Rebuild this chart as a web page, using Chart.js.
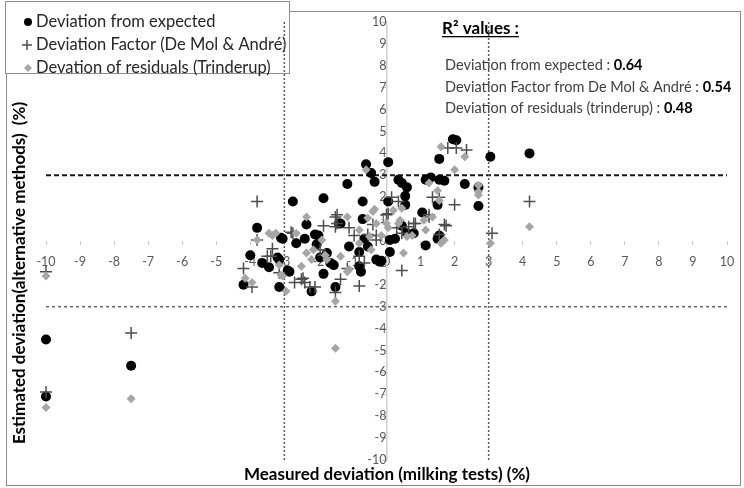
<!DOCTYPE html>
<html>
<head>
<meta charset="utf-8">
<script src="https://cdn.jsdelivr.net/npm/chart.js@4.4.1/dist/chart.umd.min.js"></script>
<style>
  html, body { margin: 0; padding: 0; background: #fff; }
  #wrap { width: 744px; height: 488px; }
</style>
</head>
<body>
<div id="wrap"><canvas id="devChart" width="744" height="488"></canvas></div>
<script>
// legend / series names
const seriesNames = [
  'Deviation from expected',
  'Deviation Factor (De Mol & André)',
  'Devation of residuals (Trinderup)'
];
const r2Labels = [
  'Deviation from expected : ',
  'Deviation Factor from De Mol & André : ',
  'Deviation of residuals (trinderup) : '
];
const r2Values = ['0.64', '0.54', '0.48'];

const xTitle = 'Measured deviation (milking tests) (%)';
const yTitle = 'Estimated deviation(alternative methods)  (%)';

const axisMin = -10;
const axisMax = 10;
const limitLines = [-3, 3];

// [measured, estimated]
const expectedPts = [
  [-10,-4.5],[-10,-7.1],[-7.5,-5.7],[4.2,4.0],[3.05,3.85],
  [-3.8,0.6],[-4.0,-0.65],[-4.2,-2.0],[-3.65,-1.0],[-3.45,-1.2],[-3.15,-2.1],[-3.1,0.15],
  [-3.2,-0.75],[-2.9,-1.35],[-2.75,1.8],[-2.65,-0.1],[-2.4,0.1],[-2.35,0.75],[-2.2,-2.3],
  [-2.1,0.3],[-2.05,-0.15],[-1.95,-0.75],[-1.85,1.95],[-1.85,-1.5],[-1.75,-0.55],[-1.55,-1.1],
  [-1.5,-2.1],[-1.4,0.8],[-1.15,2.6],[-1.1,-0.25],[-0.8,-0.5],[-0.8,-1.15],[-0.75,-1.4],
  [-0.7,1.8],[-0.7,1.0],[-0.65,0.1],[-0.6,3.5],[-0.45,3.1],[-0.35,2.7],[-0.55,-0.25],
  [-0.15,-0.9],[0.05,3.6],[0.1,-0.5],[0.1,0.05],[0.35,2.8],[0.45,2.65],[0.6,2.45],[0.55,2.05],
  [0.55,1.65],[0.05,1.8],[0.45,0.7],[0.25,0.1],[0.6,0.35],[1.05,1.3],[1.15,-0.2],[1.15,2.8],
  [1.3,2.9],[1.55,2.8],[1.7,2.75],[1.55,3.75],[1.5,1.65],[1.95,4.65],[2.05,4.6],[2.3,2.6],
  [2.7,2.45],[2.7,1.6],[1.55,0.25],[-3.15,-0.85],[-2.85,-1.4],[-3.05,0.1],[-2.0,0.25],
  [-1.65,-1.0],[-1.35,0.8],[-0.3,-0.85],[0.8,0.35],[1.5,0.1],[-0.2,-0.95]
];
const factorPts = [
  [-10,-6.9],[-10,-1.4],[-7.5,-4.2],[4.2,1.8],[3.1,0.35],
  [-3.8,1.8],[-4.2,-1.25],[-3.95,-2.1],[-3.35,-0.35],[-3.5,-0.7],[-2.75,0.35],[-3.15,-1.45],
  [-2.7,-1.9],[-2.5,-1.75],[-2.4,-1.9],[-2.1,-2.1],[-1.85,0.7],[-1.85,-0.65],[-1.5,1.1],
  [-1.5,0.65],[-1.1,0.6],[-1.35,-1.75],[-1.5,-2.35],[-1.15,-1.25],[-0.8,-2.05],[-0.95,0.25],
  [-0.3,0.25],[-0.65,-1.0],[-0.55,0.3],[0.0,1.2],[0.15,2.0],[0.35,1.8],[0.3,0.6],[0.45,-1.35],
  [0.65,0.65],[0.85,0.8],[1.25,1.1],[1.35,2.0],[1.55,2.0],[1.75,0.7],[1.55,0.3],[2.0,1.65],
  [1.8,4.25],[2.05,4.25],[2.35,4.15],[-3.8,0.05],[-3.4,-0.7],[-2.8,0.4],[-1.45,1.2],
  [-1.45,0.8],[-0.4,0.75],[-0.8,-0.7],[-2.45,-1.7],[-2.25,-2.1],[-1.95,-0.4],[0.05,1.25],
  [0.8,0.8],[1.25,1.2],[1.7,0.75],[0.45,0.35],[-0.3,0.05]
];
const residualPts = [
  [-10,-7.6],[-10,-1.6],[-7.5,-7.2],[-1.5,-4.9],[4.2,0.65],[3.05,-0.1],
  [-3.8,0.05],[-4.15,-1.7],[-3.95,-1.9],[-3.45,0.35],[-3.25,0.35],[-3.15,-1.1],[-3.1,-1.55],
  [-2.95,-2.3],[-2.35,1.1],[-2.35,-0.55],[-2.2,-0.85],[-1.9,0.05],[-1.75,-0.85],[-1.35,-0.7],
  [-1.5,-2.75],[-1.15,1.1],[-1.1,-1.3],[-0.8,0.5],[-0.6,3.25],[-0.55,1.05],[-0.4,1.35],
  [-0.3,0.8],[-0.45,-0.4],[0.05,0.6],[0.2,1.4],[0.4,0.95],[0.45,1.5],[0.5,-0.55],[0.75,0.25],
  [1.15,0.5],[1.35,1.1],[1.5,2.3],[1.55,1.85],[1.6,4.3],[1.7,0.05],[2.0,3.25],[2.3,3.85],
  [2.7,2.25],[-3.35,0.25],[-2.65,0.35],[-2.5,-1.15],[-2.15,-0.4],[-1.8,-0.65],[-1.15,-1.4],
  [-0.5,0.2],[-0.8,-0.1],[1.6,-0.1],[1.1,0.95],[-0.15,0.25],[0.35,0.8],[0.6,0.2],[0.0,0.8],
  [2.7,2.55],[2.7,2.1],[1.25,2.65],[-0.35,1.45],[-3.05,-1.6]
];

const toXY = arr => arr.map(p => ({ x: p[0], y: p[1] }));

// dashed limit lines (vertical + horizontal)
function limitLine(pts, color, dash, width) {
  return {
    data: pts, showLine: true, pointRadius: 0, pointHoverRadius: 0,
    borderColor: color, borderDash: dash, borderWidth: width, fill: false, order: 10
  };
}

const decorPlugin = {
  id: 'decor',
  beforeDatasetsDraw(chart) {
    const ctx = chart.ctx;
    ctx.save();
    ctx.strokeStyle = '#8c8c8c';
    ctx.lineWidth = 1;
    ctx.strokeRect(6.5, 11.5, 734, 474);

    // legend box
    ctx.fillStyle = '#fff';
    ctx.fillRect(5, 1, 284, 72);
    ctx.strokeRect(5.5, 1.5, 284, 72);
    ctx.font = '16.5px Lato';
    ctx.textBaseline = 'middle';
    ctx.fillStyle = '#262626';
    const rows = [22, 45, 68];
    seriesNames.forEach((name, i) => {
      ctx.fillText(name, 36, rows[i]);
    });
    // markers
    ctx.fillStyle = '#000';
    ctx.beginPath(); ctx.arc(28, rows[0], 4, 0, Math.PI * 2); ctx.fill();
    ctx.strokeStyle = '#4d4d4d'; ctx.lineWidth = 1.5;
    ctx.beginPath();
    ctx.moveTo(22, rows[1]); ctx.lineTo(32, rows[1]);
    ctx.moveTo(27, rows[1] - 5); ctx.lineTo(27, rows[1] + 5);
    ctx.stroke();
    ctx.fillStyle = '#a6a6a6';
    ctx.beginPath();
    ctx.moveTo(28, rows[2] - 4); ctx.lineTo(32, rows[2]); ctx.lineTo(28, rows[2] + 4); ctx.lineTo(24, rows[2]);
    ctx.closePath(); ctx.fill();

    // R2 block
    ctx.fillStyle = '#000';
    ctx.font = 'bold 17px Lato';
    ctx.textBaseline = 'alphabetic';
    const head = 'R² values :';
    ctx.fillText(head, 442, 34);
    const hw = ctx.measureText(head).width;
    ctx.fillRect(442, 36, hw, 1.3);
    const r2Rows = [70, 92, 113];
    r2Labels.forEach((lab, i) => {
      ctx.font = '14.5px Lato';
      ctx.fillStyle = '#404040';
      ctx.fillText(lab, 445, r2Rows[i]);
      const w = ctx.measureText(lab).width;
      ctx.font = 'bold 14.5px Lato';
      ctx.fillStyle = '#000';
      ctx.fillText(r2Values[i], 445 + w, r2Rows[i]);
    });

    // axis titles
    ctx.font = 'bold 17px Lato';
    ctx.fillStyle = '#000';
    ctx.textAlign = 'center';
    ctx.textBaseline = 'middle';
    ctx.fillText(xTitle, 387, 475);
    ctx.translate(20, 273);
    ctx.rotate(-Math.PI / 2);
    ctx.fillText(yTitle, 0, 0);
    ctx.restore();
  }
};

Chart.defaults.font.family = 'Lato';

const ctx = document.getElementById('devChart').getContext('2d');
const devChart = new Chart(ctx, {
  type: 'scatter',
  data: {
    datasets: [
      {
        label: seriesNames[0],
        data: toXY(expectedPts),
        pointStyle: 'circle',
        pointRadius: 5,
        backgroundColor: '#000',
        borderColor: '#000',
        borderWidth: 0,
        clip: false,
        order: 3
      },
      {
        label: seriesNames[1],
        data: toXY(factorPts),
        pointStyle: 'cross',
        pointRadius: 6,
        borderColor: '#4d4d4d',
        backgroundColor: '#4d4d4d',
        borderWidth: 1.5,
        clip: false,
        order: 2
      },
      {
        label: seriesNames[2],
        data: toXY(residualPts),
        pointStyle: 'rectRot',
        pointRadius: 4.5,
        backgroundColor: '#a6a6a6',
        borderColor: '#a6a6a6',
        borderWidth: 0,
        clip: false,
        order: 1
      },
      limitLine([{ x: limitLines[0], y: axisMin }, { x: limitLines[0], y: axisMax }], '#595959', [2, 2], 1.5),
      limitLine([{ x: limitLines[1], y: axisMin }, { x: limitLines[1], y: axisMax }], '#595959', [2, 2], 1.5),
      limitLine([{ x: axisMin, y: limitLines[1] }, { x: axisMax, y: limitLines[1] }], '#1a1a1a', [5, 3], 2),
      limitLine([{ x: axisMin, y: limitLines[0] }, { x: axisMax, y: limitLines[0] }], '#666', [3, 3], 1.5)
    ]
  },
  options: {
    responsive: false,
    animation: false,
    layout: { padding: { left: 46, right: 17, top: 22, bottom: 28 } },
    plugins: {
      legend: { display: false },
      tooltip: { enabled: false }
    },
    scales: {
      x: {
        type: 'linear',
        min: axisMin,
        max: axisMax,
        position: { y: 0 },
        afterFit: s => { s.height = 0; },
        ticks: { stepSize: 1, color: '#595959', font: { size: 12.5 }, padding: 9, maxRotation: 0, autoSkip: false },
        grid: { drawOnChartArea: false, drawTicks: true, tickLength: 4, color: '#c8c8c8' },
        border: { display: false }
      },
      y: {
        type: 'linear',
        min: axisMin,
        max: axisMax,
        position: { x: 0 },
        afterFit: s => { s.width = 0; },
        ticks: { stepSize: 1, color: '#595959', font: { size: 12.5 }, padding: 9, autoSkip: false },
        grid: { drawOnChartArea: false, drawTicks: true, tickLength: 5, color: '#c8c8c8' },
        border: { color: '#d0d0d0', width: 1.5 }
      }
    }
  },
  plugins: [decorPlugin]
});
</script>
</body>
</html>
